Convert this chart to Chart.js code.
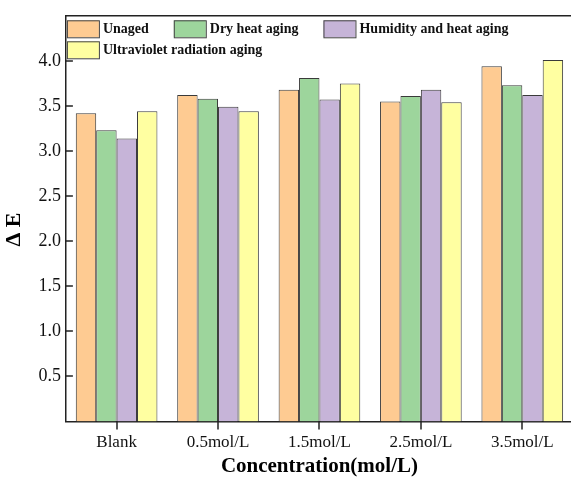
<!DOCTYPE html>
<html>
<head>
<meta charset="utf-8">
<script src="https://cdn.jsdelivr.net/npm/chart.js@4/dist/chart.umd.min.js"></script>
<style>
html,body{margin:0;padding:0;overflow:hidden;background:#fff;}
canvas{display:block;}
</style>
</head>
<body>
<canvas id="c" width="573" height="479"></canvas>
<script>
const categories = ["Blank", "0.5mol/L", "1.5mol/L", "2.5mol/L", "3.5mol/L"];
const unaged = [3.42, 3.62, 3.68, 3.55, 3.94];
const dryHeat = [3.23, 3.58, 3.81, 3.61, 3.73];
const humidHeat = [3.14, 3.49, 3.57, 3.68, 3.62];
const ultraviolet = [3.44, 3.44, 3.75, 3.54, 4.01];
const seriesNames = ["Unaged", "Dry heat aging", "Humidity and heat aging", "Ultraviolet radiation aging"];
const yTicks = [0.5, 1.0, 1.5, 2.0, 2.5, 3.0, 3.5, 4.0];

const colors = ["#FECB92", "#9DD59C", "#C6B4D8", "#FFFFA1"];
const serif = "'Liberation Serif', 'Times New Roman', serif";
const axisColor = "#222222";

const framePlugin = {
  id: 'frame',
  afterDraw(chart) {
    const ctx = chart.ctx, a = chart.chartArea, ys = chart.scales.y, xs = chart.scales.x;
    ctx.save();
    ctx.strokeStyle = axisColor;
    ctx.lineWidth = 1.5;
    ctx.beginPath();
    ctx.moveTo(a.left, a.top);
    ctx.lineTo(a.right + 2, a.top);
    ctx.stroke();
    ctx.lineWidth = 1.5;
    yTicks.forEach(v => {
      const p = Math.round(ys.getPixelForValue(v));
      ctx.beginPath();
      ctx.moveTo(a.left, p);
      ctx.lineTo(a.left + 7, p);
      ctx.stroke();
    });
    for (let i = 0; i < categories.length; i++) {
      const p = Math.round(xs.getPixelForValue(i));
      ctx.beginPath();
      ctx.moveTo(p, a.bottom);
      ctx.lineTo(p, a.bottom + 8);
      ctx.stroke();
    }
    // legend
    const ds = chart.data.datasets;
    ctx.font = "bold 14px " + serif;
    ctx.textBaseline = 'middle';
    let lx = a.left + 1, row = 0;
    const rowY = [a.top + 13, a.top + 34];
    ds.forEach((d) => {
      const w = 32 + 4 + ctx.measureText(d.label).width;
      if (lx + w > a.right - 5) { row++; lx = a.left + 1; }
      const cy = rowY[row];
      ctx.fillStyle = d.backgroundColor;
      ctx.fillRect(lx, cy - 8.5, 32, 17);
      ctx.strokeStyle = '#444';
      ctx.lineWidth = 1;
      ctx.strokeRect(lx + 0.5, cy - 8.5 + 0.5, 32, 17);
      ctx.fillStyle = '#111';
      ctx.fillText(d.label, lx + 36, cy + 1);
      lx += w + 25;
    });
    ctx.restore();
  }
};

new Chart(document.getElementById('c'), {
  type: 'bar',
  data: {
    labels: categories,
    datasets: [unaged, dryHeat, humidHeat, ultraviolet].map((vals, i) => ({
      label: seriesNames[i],
      data: vals,
      backgroundColor: colors[i],
      borderColor: '#3a3a3a',
      borderWidth: 1,
      categoryPercentage: 0.805,
      barPercentage: 1.0
    }))
  },
  options: {
    responsive: false,
    animation: false,
    layout: { padding: { top: 13, right: 0, left: 1, bottom: 0 } },
    plugins: {
      legend: { display: false },
      tooltip: { enabled: false }
    },
    scales: {
      x: {
        grid: { display: false, drawTicks: false },
        border: { display: true, color: axisColor, width: 1.5 },
        ticks: { color: '#111', font: { family: serif, size: 17 }, padding: 11 },
        title: { display: true, text: 'Concentration(mol/L)', color: '#000', font: { family: serif, size: 21, weight: 'bold' }, padding: { top: -10, bottom: 0 } }
      },
      y: {
        min: 0, max: 4.5,
        afterBuildTicks(scale) { scale.ticks = yTicks.map(v => ({ value: v })); },
        grid: { display: false, drawTicks: false },
        border: { display: true, color: axisColor, width: 1.5 },
        ticks: { color: '#111', font: { family: serif, size: 18 }, padding: 5, callback: v => Number(v).toFixed(1) },
        title: { display: true, text: 'Δ E\u2003', color: '#000', font: { family: serif, size: 22, weight: 'bold' }, padding: { top: 0, bottom: 6 } }
      }
    }
  },
  plugins: [framePlugin]
});
</script>
</body>
</html>
